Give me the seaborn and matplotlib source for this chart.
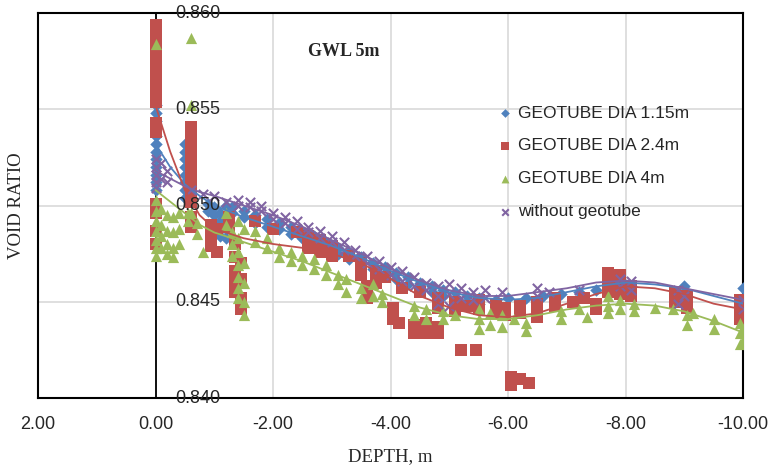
import numpy as np
import pandas as pd
import seaborn as sns
import matplotlib.pyplot as plt

# --- datos ---
series_names = ['GEOTUBE DIA 1.15m', 'GEOTUBE DIA 2.4m', 'GEOTUBE DIA 4m', 'without geotube']

blue_depth = [0, 0, 0, 0, 0, 0, 0, 0, 0, 0, 0, 0,
              -0.5, -0.5, -0.5, -0.5, -0.5, -0.5, -0.5, -0.5,
              -0.9, -0.9, -1.0, -1.0, -1.0, -1.1, -1.1, -1.1, -1.1, -1.2, -1.2, -1.2, -1.2,
              -1.3, -1.3, -1.5, -1.5, -1.7, -1.7, -1.9, -1.9, -2.1, -2.1, -2.3, -2.3,
              -2.5, -2.5, -2.7, -2.7, -2.9, -2.9, -3.1, -3.1, -3.3, -3.3, -3.5, -3.5,
              -3.7, -3.7, -3.9, -3.9, -4.1, -4.1, -4.3, -4.3, -4.5, -4.5, -4.7, -4.7,
              -4.9, -4.9, -5.1, -5.1, -5.3, -5.3, -5.5, -5.5, -5.8, -5.8, -6.0, -6.3,
              -6.6, -6.9, -7.2, -7.5, -7.9, -8.1, -9.0, -9.0, -10.0, -10.0]
blue_void = [0.8552, 0.8548, 0.8544, 0.8540, 0.8536, 0.8532, 0.8528, 0.8524, 0.8520, 0.8516, 0.8512, 0.8508,
             0.8532, 0.8528, 0.8524, 0.8520, 0.8516, 0.8512, 0.8508, 0.8504,
             0.8501, 0.8497, 0.8499, 0.8495, 0.8490, 0.8496, 0.8492, 0.8488, 0.8484, 0.8500, 0.8494, 0.8488, 0.8483,
             0.8499, 0.8496, 0.8497, 0.8494, 0.8495, 0.8491, 0.8493, 0.8489, 0.8491, 0.8488, 0.8489, 0.8485,
             0.8486, 0.8483, 0.8484, 0.8480, 0.8481, 0.8478, 0.8478, 0.8475, 0.8476, 0.8472, 0.8473, 0.8470,
             0.8470, 0.8467, 0.8468, 0.8464, 0.8465, 0.8462, 0.8463, 0.8459, 0.8460, 0.8457, 0.8458, 0.8455,
             0.8456, 0.8453, 0.8455, 0.8451, 0.8453, 0.8450, 0.8452, 0.8449, 0.8451, 0.8449, 0.8452, 0.8452,
             0.8453, 0.8454, 0.8455, 0.8456, 0.8459, 0.8458, 0.8458, 0.8455, 0.8457, 0.8452]

red_depth = [0, 0, 0, 0, 0, 0, 0, 0, 0, 0, 0, 0, 0, 0, 0,
             -0.6, -0.6, -0.6, -0.6, -0.6, -0.6, -0.6, -0.6, -0.6, -0.6,
             -0.95, -0.95, -0.95, -1.05, -1.05, -1.25, -1.25,
             -1.35, -1.35, -1.35, -1.35, -1.35, -1.45, -1.45, -1.45, -1.45,
             -1.7, -2.0, -2.4, -2.6, -2.6, -2.8, -2.8, -3.0, -3.0, -3.3, -3.5, -3.5,
             -3.6, -3.6, -3.75, -3.75, -3.9, -4.05, -4.05, -4.15, -4.4, -4.4, -4.6, -4.6, -4.8, -4.8,
             -4.2, -4.5, -4.8, -4.8, -5.1, -5.1, -5.3, -5.5, -5.5, -5.8, -5.8, -5.95, -5.95,
             -6.2, -6.2, -6.5, -6.5, -6.5, -6.8, -6.8, -7.1, -7.3, -7.5, -7.5,
             -5.2, -5.45, -6.05, -6.05, -6.2, -6.35,
             -7.7, -7.7, -7.7, -7.9, -7.9, -7.9, -8.1, -8.1, -8.85, -8.85, -9.05, -9.05,
             -9.95, -9.95, -9.95, -10.0, -10.0]
red_void = [0.8594, 0.8588, 0.8583, 0.8578, 0.8573, 0.8568, 0.8563, 0.8558, 0.8554, 0.8543, 0.8538, 0.8501, 0.8496, 0.8487, 0.8480,
            0.8541, 0.8536, 0.8531, 0.8525, 0.8519, 0.8513, 0.8508, 0.8502, 0.8494, 0.8489,
            0.8490, 0.8484, 0.8479, 0.8488, 0.8476, 0.8494, 0.8489,
            0.8480, 0.8473, 0.8466, 0.8460, 0.8455, 0.8470, 0.8462, 0.8452, 0.8446,
            0.8492, 0.8488, 0.8486, 0.8484, 0.8478, 0.8482, 0.8476, 0.8479, 0.8474, 0.8474, 0.8470, 0.8464,
            0.8458, 0.8452, 0.8466, 0.8460, 0.8463, 0.8447, 0.8441, 0.8439, 0.8438, 0.8434, 0.8439, 0.8434, 0.8437, 0.8434,
            0.8457, 0.8455, 0.8452, 0.8447, 0.8450, 0.8445, 0.8448, 0.8451, 0.8446, 0.8449, 0.8444, 0.8447, 0.8443,
            0.8448, 0.8444, 0.8450, 0.8445, 0.8442, 0.8452, 0.8448, 0.8450, 0.8452, 0.8449, 0.8446,
            0.8425, 0.8425, 0.8411, 0.8407, 0.8410, 0.8408,
            0.8465, 0.8460, 0.8455, 0.8464, 0.8459, 0.8454, 0.8458, 0.8453, 0.8455, 0.8450, 0.8453, 0.8447,
            0.8451, 0.8446, 0.8441, 0.8448, 0.8443]

green_depth = [0, 0, 0, 0, 0, 0, 0, 0,
               -0.1, -0.1, -0.1, -0.1, -0.2, -0.2, -0.2, -0.2, -0.3, -0.3, -0.3, -0.3,
               -0.4, -0.4, -0.4, -0.55, -0.55, -0.6, -0.6, -0.6, -0.7, -0.7, -0.8,
               -1.2, -1.2, -1.3, -1.3, -1.3, -1.4, -1.4, -1.4, -1.4, -1.4, -1.4, -1.4,
               -1.5, -1.5, -1.5, -1.5, -1.5,
               -1.7, -1.7, -1.9, -1.9, -2.1, -2.1, -2.3, -2.3, -2.5, -2.5, -2.7, -2.7,
               -2.9, -2.9, -3.1, -3.1, -3.25, -3.25, -3.5, -3.5, -3.7, -3.7, -3.85, -3.85,
               -4.4, -4.4, -4.6, -4.6, -4.9, -4.9, -5.1, -5.5, -5.5, -5.5, -5.7, -5.7,
               -5.9, -5.9, -6.1, -6.3, -6.3, -6.9, -6.9, -7.2, -7.35, -7.7, -7.7, -7.7,
               -7.9, -7.9, -8.15, -8.15, -8.5, -8.8, -9.05, -9.05, -9.15, -9.5, -9.5,
               -9.95, -9.95, -9.95, -10.0, -10.0]
green_void = [0.8584, 0.8503, 0.8497, 0.8492, 0.8487, 0.8482, 0.8478, 0.8474,
              0.8498, 0.8490, 0.8484, 0.8478, 0.8495, 0.8487, 0.8480, 0.8475, 0.8494, 0.8486, 0.8478, 0.8473,
              0.8496, 0.8488, 0.8480, 0.8496, 0.8492, 0.8587, 0.8552, 0.8496, 0.8491, 0.8485, 0.8476,
              0.8496, 0.8490, 0.8486, 0.8480, 0.8474, 0.8492, 0.8483, 0.8476, 0.8469, 0.8463, 0.8457, 0.8452,
              0.8488, 0.8470, 0.8460, 0.8450, 0.8443,
              0.8487, 0.8481, 0.8483, 0.8478, 0.8478, 0.8473, 0.8476, 0.8471, 0.8474, 0.8469, 0.8472, 0.8467,
              0.8469, 0.8464, 0.8464, 0.8459, 0.8462, 0.8455, 0.8457, 0.8452, 0.8459, 0.8453, 0.8454, 0.8450,
              0.8448, 0.8443, 0.8446, 0.8441, 0.8445, 0.8441, 0.8443, 0.8446, 0.8441, 0.8436, 0.8444, 0.8438,
              0.8443, 0.8437, 0.8441, 0.8439, 0.8435, 0.8445, 0.8441, 0.8446, 0.8442, 0.8453, 0.8448, 0.8444,
              0.8451, 0.8446, 0.8449, 0.8445, 0.8447, 0.8446, 0.8443, 0.8438, 0.8444, 0.8441, 0.8436,
              0.8439, 0.8434, 0.8428, 0.8436, 0.8430]

purple_depth = [0, 0, 0, 0, 0, -0.1, -0.1, -0.2, -0.2,
                -0.6, -0.8, -1.0, -1.2, -1.4, -1.4, -1.6, -1.6, -1.8, -1.8, -2.0, -2.0,
                -2.2, -2.2, -2.4, -2.4, -2.6, -2.6, -2.8, -2.8, -3.0, -3.0, -3.2, -3.2,
                -3.4, -3.4, -3.6, -3.6, -3.8, -3.8, -4.0, -4.0, -4.2, -4.2, -4.4, -4.4,
                -4.6, -4.6, -4.8, -4.8, -4.8, -5.0, -5.0, -5.0, -5.2, -5.2, -5.4, -5.4,
                -5.6, -5.6, -5.9, -6.5, -6.5, -6.7, -7.2, -7.9, -7.9, -8.1, -8.1,
                -8.9, -8.9, -9.0, -10.0, -10.0]
purple_void = [0.8524, 0.8520, 0.8516, 0.8512, 0.8509, 0.8522, 0.8514, 0.8518, 0.8512,
               0.8508, 0.8506, 0.8505, 0.8502, 0.8500, 0.8503, 0.8499, 0.8502, 0.8497, 0.8500, 0.8496, 0.8493,
               0.8494, 0.8491, 0.8492, 0.8488, 0.8489, 0.8486, 0.8487, 0.8483, 0.8484, 0.8481, 0.8481, 0.8477,
               0.8477, 0.8474, 0.8474, 0.8470, 0.8471, 0.8467, 0.8468, 0.8464, 0.8466, 0.8461, 0.8463, 0.8458,
               0.8460, 0.8456, 0.8458, 0.8453, 0.8449, 0.8459, 0.8454, 0.8448, 0.8457, 0.8452, 0.8455, 0.8451,
               0.8456, 0.8452, 0.8455, 0.8457, 0.8453, 0.8455, 0.8456, 0.8462, 0.8458, 0.8461, 0.8456,
               0.8456, 0.8449, 0.8453, 0.8451, 0.8446]

# líneas de tendencia
trend_depth = [0, -0.25, -0.5, -0.75, -1, -1.5, -2, -2.5, -3, -3.5, -4, -4.5,
               -5, -5.5, -6, -6.5, -7, -7.5, -8, -8.5, -9, -9.5, -10]
blue_trend = [0.8532, 0.8520, 0.8511, 0.8505, 0.8500, 0.8494, 0.8489, 0.8484, 0.8479, 0.8473, 0.8466, 0.8460,
              0.8455, 0.8452, 0.8451, 0.8452, 0.8455, 0.8458, 0.8460, 0.8459, 0.8457, 0.8453, 0.8449]
red_trend = [0.8552, 0.8528, 0.8508, 0.8495, 0.8488, 0.8483, 0.8480, 0.8478, 0.8475, 0.8470, 0.8462, 0.8453,
             0.8447, 0.8443, 0.8442, 0.8444, 0.8449, 0.8454, 0.8458, 0.8457, 0.8454, 0.8449, 0.8446]
green_trend = [0.8508, 0.8502, 0.8496, 0.8490, 0.8486, 0.8481, 0.8476, 0.8471, 0.8465, 0.8459, 0.8453, 0.8447,
               0.8443, 0.8441, 0.8441, 0.8443, 0.8446, 0.8448, 0.8449, 0.8448, 0.8445, 0.8440, 0.8434]
purple_trend = [0.8518, 0.8514, 0.8510, 0.8507, 0.8505, 0.8500, 0.8495, 0.8489, 0.8482, 0.8475, 0.8467, 0.8461,
                0.8456, 0.8453, 0.8453, 0.8455, 0.8457, 0.8460, 0.8461, 0.8460, 0.8457, 0.8454, 0.8451]

x_ticks = [2, 0, -2, -4, -6, -8, -10]
y_ticks = [0.840, 0.845, 0.850, 0.855, 0.860]

# --- estilo ---
sns.set_theme(style='white')
plt.rcParams['font.family'] = ['Liberation Sans', 'DejaVu Sans']

colors = ['#4F81BD', '#C0504D', '#9BBB59', '#8064A2']
markers = ['D', 's', '^', 'x']
sizes = [40, 70, 65, 45]

points = [(blue_depth, blue_void), (red_depth, red_void), (green_depth, green_void), (purple_depth, purple_void)]
trends = [blue_trend, red_trend, green_trend, purple_trend]

fig = plt.figure(figsize=(7.68, 4.69), dpi=100)
ax = fig.add_axes([38 / 768, 1 - 398 / 469, 705 / 768, 385 / 469])

for name, (d, v), c, m, s in zip(series_names, points, colors, markers, sizes):
    df = pd.DataFrame({'depth': d, 'void': v})
    lw = 1.5 if m == 'x' else 0
    sns.scatterplot(data=df, x='depth', y='void', ax=ax, color=c, marker=m, s=s,
                    linewidth=lw, label=name, zorder=3)

for tr, c in zip(trends, colors):
    tdf = pd.DataFrame({'depth': trend_depth, 'void': tr})
    sns.lineplot(data=tdf, x='depth', y='void', ax=ax, color=c, lw=1.3, zorder=4,
                 sort=False, legend=False)

ax.set_xlim(2, -10)
ax.set_ylim(0.840, 0.860)
ax.set_xticks(x_ticks)
ax.set_xticklabels([f'{t:.2f}' for t in x_ticks], fontsize=13)
ax.set_yticks(y_ticks)
ax.set_yticklabels([])
ax.tick_params(axis='y', length=0)
ax.tick_params(axis='x', length=0, pad=13)

ax.grid(True, color='#d9d9d9', lw=1.2)
ax.set_axisbelow(True)
for sp in ax.spines.values():
    sp.set_color('black')
    sp.set_linewidth(1.5)
ax.axvline(0, color='black', lw=1.3, zorder=2)

# etiquetas del eje Y junto a la profundidad 0
for t in y_ticks:
    ax.text(-0.72, t, f'{t:.3f}', ha='center', va='center', fontsize=13, zorder=6)

ax.set_xlabel('DEPTH, m', family='Liberation Serif', fontsize=13.5, labelpad=11)
ax.set_ylabel('VOID RATIO', family='Liberation Serif', fontsize=13.5, va='center')
ax.yaxis.set_label_coords(-0.031, 0.5)
ax.text(-3.2, 0.8580, 'GWL 5m', family='Liberation Serif', fontweight='bold',
        fontsize=13, ha='center', va='center')

ax.legend(loc='upper left', bbox_to_anchor=(0.652, 0.76), frameon=False, fontsize=12.5,
          handlelength=0.8, handletextpad=0.4, labelspacing=1.02, borderpad=0,
          borderaxespad=0, markerscale=0.7)

fig.savefig('out.png', dpi=100)
